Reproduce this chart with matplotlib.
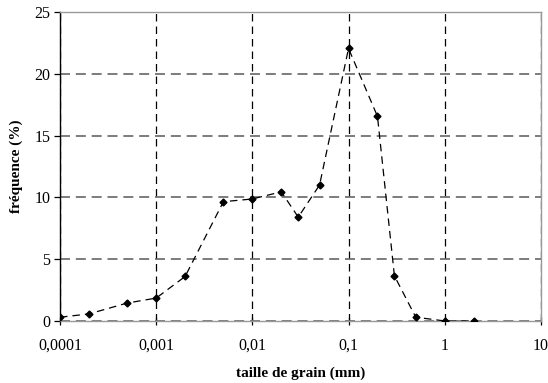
import matplotlib
matplotlib.use("Agg")
import matplotlib.pyplot as plt
from matplotlib.ticker import FixedLocator, FixedFormatter, NullLocator

grain_size = [0.0001, 0.0002, 0.0005, 0.001, 0.002, 0.005, 0.01, 0.02, 0.03, 0.05,
              0.1, 0.2, 0.3, 0.5, 1, 2]
frequency = [0.3, 0.57, 1.45, 1.85, 3.6, 9.65, 9.87, 10.45, 8.4, 11.0,
             22.05, 16.55, 3.65, 0.3, 0.0, 0.0]
x_ticks = [0.0001, 0.001, 0.01, 0.1, 1, 10]
x_tick_labels = ["0,0001", "0,001", "0,01", "0,1", "1", "10"]
y_ticks = [0, 5, 10, 15, 20, 25]

plt.rcParams['font.family'] = ['Liberation Serif', 'DejaVu Serif']

fig = plt.figure(figsize=(5.48, 3.83), dpi=100)
ax = fig.add_axes([0.1095, 0.162, 0.8775, 0.8067])

ax.set_xscale('log')
ax.set_xlim(0.0001, 10)
ax.set_ylim(0, 25)

ax.plot(grain_size, frequency, color='black', linestyle=(0, (6, 4)), linewidth=0.9,
        marker='D', markersize=3.5, markerfacecolor='black', markeredgecolor='black', zorder=3)

ax.xaxis.set_major_locator(FixedLocator(x_ticks))
ax.xaxis.set_major_formatter(FixedFormatter(x_tick_labels))
ax.xaxis.set_minor_locator(NullLocator())
ax.set_yticks(y_ticks)

ax.grid(True, axis='x', which='major', color='black', linestyle=(0, (6, 4)), linewidth=0.9)
ax.grid(True, axis='y', which='major', color='#666666', linestyle=(0, (6, 3.5)), linewidth=1.2)

for s in ['top', 'right', 'bottom']:
    ax.spines[s].set_color('#999999')
    ax.spines[s].set_linewidth(1.0)
ax.spines['left'].set_color('black')
ax.spines['left'].set_linewidth(1.0)

ax.tick_params(axis='x', direction='inout', length=6, width=0.9, labelsize=11.5, pad=9, color='black')
ax.tick_params(axis='y', direction='out', length=4, width=0.9, labelsize=11.5, pad=3, color='black')

ax.set_xlabel('taille de grain (mm)', fontweight='bold', fontsize=11, labelpad=9)
ax.set_ylabel('fréquence (%)', fontweight='bold', fontsize=11, labelpad=8)

fig.savefig('out.png', dpi=100)
